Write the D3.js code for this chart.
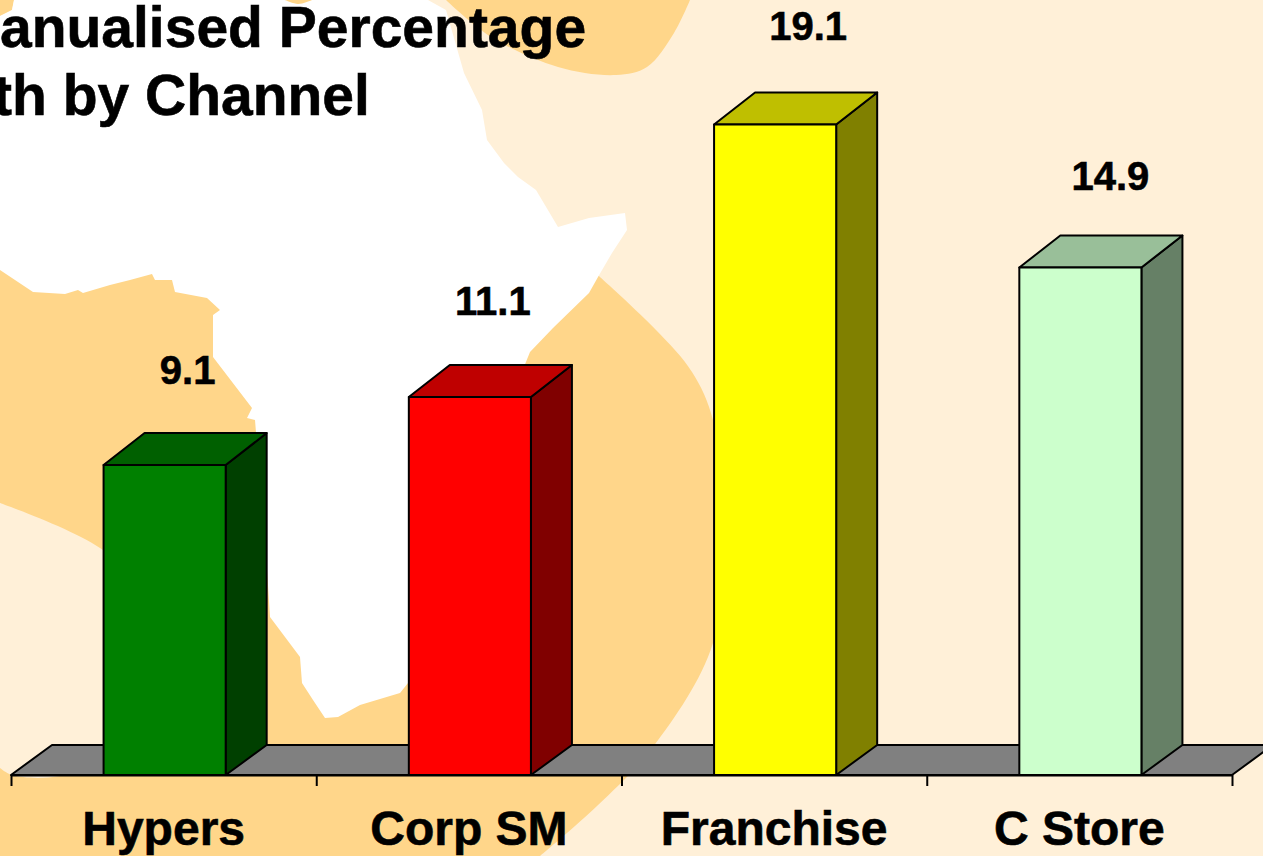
<!DOCTYPE html>
<html><head><meta charset="utf-8">
<script src="https://cdn.jsdelivr.net/npm/d3@7/dist/d3.min.js"></script>
<style>html,body{margin:0;padding:0;overflow:hidden;background:#FFF0D8}svg{display:block}text{font-family:"Liberation Sans",Arial,sans-serif;font-weight:700;fill:#000;stroke:#000;stroke-width:.6px}</style>
</head><body><svg id="c" width="1263" height="856"></svg>
<script>
const categories = ["Hypers", "Corp SM", "Franchise", "C Store"];
const values = [9.1, 11.1, 19.1, 14.9];
const titleLines = ["anualised Percentage", "th by Channel"];
const frontColors = ["#008000", "#FF0000", "#FFFF00", "#CCFFCC"];

function draw() {
  const W = 1263, H = 856;
  const svg = d3.select("#c");
  const line = d3.line().curve(d3.curveLinear);
  const smooth = d3.line().curve(d3.curveCatmullRom.alpha(0.5));

  // decorative backdrop
  const cream = "#FFF0D8", orange = "#FFD68A";
  const bg = svg.append("g");
  bg.append("rect").attr("width", W).attr("height", H).attr("fill", cream);
  bg.append("path").attr("fill", orange).attr("d", smooth([[600,277],[656,330],[692,372],[713,420],[722,520],[713,643],[653,747],[597,806],[540,856]]) + "L0,856L0,200L560,240Z");
  bg.append("path").attr("fill", orange).attr("d", line([[0,0],[14,0],[12,10],[0,16]]) + "Z");
  bg.append("path").attr("fill", cream).attr("d", smooth([[0,503],[100,548],[150,600],[150,740],[60,776],[12,775],[0,768]]) + "Z");
  bg.append("path").attr("fill", "#fff").attr("d", line([[0,16],[12,10],[14,0],[428,0],[446,10],[464,73],[482,110],[487,140],[504,163],[518,177],[536,190],[558,227],[589,218],[625,213],[627,230],[612,253],[598,277],[589,293],[553,328],[530,352],[470,500],[440,640],[408,683],[400,693],[360,705],[338,717],[325,718],[313,700],[302,683],[300,657],[270,617],[267,570],[255,420],[247,418],[252,408],[213,357],[213,315],[220,310],[207,298],[175,292],[172,280],[155,280],[152,274],[130,280],[110,285],[83,293],[78,290],[65,294],[33,292],[0,270]]) + "Z");
  bg.append("path").attr("fill", orange).attr("d", smooth([[446,0],[491,37],[558,67],[616,75],[647,67],[674,33],[690,0]]) + "Z");
  bg.append("path").attr("fill", orange).attr("d", smooth([[285,0],[298,4],[312,0]]) + "Z");

  // scales
  const baseY = 775, left = 11, right = 1232;
  const x = d3.scaleBand().domain(categories).range([left, right]).paddingInner(0.6).paddingOuter(0.3);
  const slots = d3.scaleLinear().domain([0, categories.length]).range([left, right]);
  const y = d3.scaleLinear().domain([0, 20]).range([baseY, baseY - 681.2]);
  const dx = 41, dy = 32, floorDy = 30;

  // floor
  const stroke = {stroke: "#000", "stroke-width": 2, "stroke-linejoin": "round"};
  const floor = svg.append("path").attr("fill", "#808080")
    .attr("d", line([[left, baseY], [left + dx, baseY - floorDy], [right + dx, baseY - floorDy], [right, baseY]]) + "Z");
  Object.entries(stroke).forEach(([k, v]) => floor.attr(k, v));

  // bars
  const bars = svg.selectAll("g.bar").data(categories.map((c, i) => ({c, v: values[i], col: frontColors[i]}))).join("g").attr("class", "bar").attr("transform", "translate(1,0)");
  const shade = (c, f) => { const r = d3.rgb(c); return d3.rgb(r.r * f, r.g * f, r.b * f).formatHex(); };
  const styled = s => { Object.entries(stroke).forEach(([k, v]) => s.attr(k, v)); return s; };
  styled(bars.append("path").attr("fill", d => shade(d.col, 0.5)).attr("d", d => {
    const r = x(d.c) + x.bandwidth();
    return line([[r, y(d.v)], [r + dx, y(d.v) - dy], [r + dx, baseY - floorDy], [r, baseY]]) + "Z";
  }));
  styled(bars.append("path").attr("fill", d => shade(d.col, 0.75)).attr("d", d => {
    const l = x(d.c), r = l + x.bandwidth();
    return line([[l, y(d.v)], [l + dx, y(d.v) - dy], [r + dx, y(d.v) - dy], [r, y(d.v)]]) + "Z";
  }));
  styled(bars.append("rect").attr("fill", d => d.col).attr("x", d => x(d.c)).attr("y", d => y(d.v))
    .attr("width", x.bandwidth()).attr("height", d => baseY - y(d.v)));

  // axis: tick marks sit on slot edges, labels at slot centres
  const tickAxis = svg.append("g").attr("transform", `translate(0,${baseY})`)
    .call(d3.axisBottom(slots).tickValues(d3.range(categories.length + 1)).tickSize(11).tickSizeOuter(0).tickFormat(""));
  tickAxis.selectAll("path,line").attr("stroke", "#000").attr("stroke-width", 2);
  const labelAxis = svg.append("g").attr("transform", `translate(0,${baseY})`)
    .call(d3.axisBottom(x).tickSize(0).tickPadding(0));
  labelAxis.select("path").remove();
  labelAxis.attr("font-family", null).attr("font-size", null);
  labelAxis.selectAll("text").attr("dy", null).attr("y", 70).style("font-size", "48px");

  // value labels (placed by hand in the reference, so each has its own nudge)
  const nudge = [[24, 81], [24, 82], [34, 84], [31, 78]];
  svg.selectAll("text.val").data(values).join("text").attr("class", "val")
    .attr("text-anchor", "middle").style("font-size", "40px")
    .attr("x", (d, i) => x(categories[i]) + x.bandwidth() / 2 + nudge[i][0])
    .attr("y", (d, i) => y(d) - nudge[i][1])
    .text(d => d.toFixed(1));

  // title
  svg.selectAll("text.title").data(titleLines).join("text").attr("class", "title")
    .style("font-size", "57px").attr("x", (d, i) => i ? -7 : 0).attr("y", (d, i) => i ? 115 : 47).text(d => d);
}
draw();
</script></body></html>
